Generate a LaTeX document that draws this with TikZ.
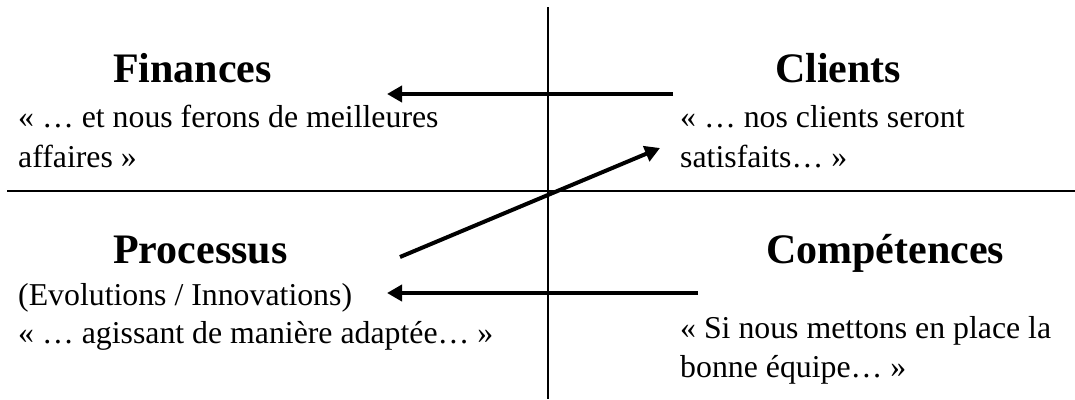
\documentclass[tikz,border=0pt]{standalone}
\usepackage{fontspec}
\setmainfont{Liberation Serif}
\usetikzlibrary{arrows.meta}
\begin{document}
\begin{tikzpicture}[x=1pt,y=-1pt,
  heading/.style={anchor=base west,inner sep=0pt,font=\fontsize{42}{48}\selectfont\bfseries},
  body/.style={anchor=base west,inner sep=0pt,font=\fontsize{31.8}{40}\selectfont},
  axis/.style={line width=2pt},
  link/.style={line width=4pt,-{Triangle[length=15pt,width=16pt]}}]
\useasboundingbox (0,0) rectangle (1075,399);
% axes
\coordinate (vtop) at (548,7);
\coordinate (vbot) at (548,399);
\coordinate (hl) at (7,191);
\coordinate (hr) at (1075,191);
\draw[axis] (vtop) -- (vbot);
\draw[axis] (hl) -- (hr);
% texts
\node[heading] (fin) at (113,82) {Finances};
\node[body] (fin1) at (18,127) {« … et nous ferons de meilleures};
\node[body] (fin2) at (18,167) {affaires »};
\node[heading] (cli) at (775,82) {Clients};
\node[body] (cli1) at (680,127) {« … nos clients seront};
\node[body] (cli2) at (680,167) {satisfaits… »};
\node[heading] (pro) at (113,263) {Processus};
\node[body] (pro1) at (18,305) {(Evolutions / Innovations)};
\node[body] (pro2) at (18,343) {« … agissant de manière adaptée… »};
\node[heading] (com) at (766,263) {Compétences};
\node[body] (com1) at (680,338) {« Si nous mettons en place la};
\node[body] (com2) at (680,377) {bonne équipe… »};
% arrows
\coordinate (a1s) at (673,94);
\coordinate (a1e) at (387,94);
\coordinate (a2s) at (400,257);
\coordinate (a2e) at (660,148);
\coordinate (a3s) at (698,293);
\coordinate (a3e) at (387,293);
\draw[link] (a1s) -- (a1e);
\draw[link] (a2s) -- (a2e);
\draw[link] (a3s) -- (a3e);
\end{tikzpicture}
\end{document}
